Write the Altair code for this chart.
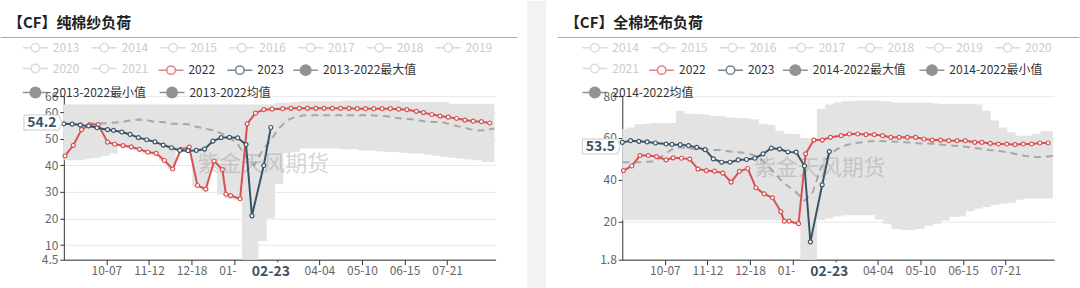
import altair as alt
import pandas as pd
from datetime import date

# ---------------- data ----------------
SEASON_START = date(2023, 9, 1)   # season axis: 09-01 .. 08-31 (366 day categories)

DATES_2022 = ["09-02", "09-09", "09-16", "09-23", "09-30", "10-08", "10-14", "10-21", "10-28",
              "11-04", "11-11", "11-18", "11-25", "12-02", "12-09", "12-16", "12-23", "12-30",
              "01-06", "01-13", "01-16", "01-20", "01-28", "02-03", "02-10", "02-17", "02-24",
              "03-04", "03-11", "03-18", "03-25", "04-01", "04-08", "04-15", "04-22", "04-29",
              "05-06", "05-13", "05-20", "05-27", "06-03", "06-10", "06-17", "06-25", "07-01",
              "07-08", "07-15", "07-22", "07-29", "08-05", "08-12", "08-19", "08-26"]
DATES_2023 = ["09-01", "09-08", "09-15", "09-22", "09-29", "10-08", "10-13", "10-20", "10-27",
              "11-03", "11-10", "11-17", "11-24", "12-01", "12-08", "12-15", "12-22", "12-29",
              "01-05", "01-12", "01-19", "01-26", "02-02", "02-07", "02-17", "02-23"]
BAND_DAYS = list(range(0, 365, 7))
X_TICKS = ["10-07", "11-12", "12-18", "01-23", "02-28", "04-04", "05-10", "06-15", "07-21"]

# 纯棉纱负荷
YARN_2022 = [43.5, 47.5, 53.4, 55.3, 55.3, 48.7, 47.9, 47.4, 46.9, 46.0, 44.9, 44.5, 41.8, 38.6,
             46.0, 46.8, 32.4, 31.0, 41.6, 38.4, 29.1, 28.6, 27.4, 55.6, 59.6, 60.9, 61.1, 61.3,
             61.4, 61.4, 61.4, 61.4, 61.4, 61.4, 61.4, 61.4, 61.3, 61.3, 61.3, 61.3, 61.3, 61.1,
             60.9, 60.3, 59.8, 59.1, 58.5, 58.1, 57.6, 57.0, 56.6, 56.4, 55.9]
YARN_2023 = [55.6, 55.5, 55.1, 54.8, 54.1, 53.4, 53.1, 52.5, 51.6, 50.4, 49.6, 48.8, 47.6, 46.6,
             45.6, 45.5, 45.6, 46.1, 49.1, 50.4, 50.5, 50.3, 47.8, 21.0, 39.9, 54.2]
YARN_MAX = [62.9] * 26 + [63.5, 63.5, 63.8, 64.1, 64.1, 64.1, 64.1, 64.1,
            64.4, 64.4, 64.4, 64.4, 64.4, 64.4, 64.4,
            63.8, 63.8, 63.8, 63.8, 63.8, 63.8, 63.1, 63.1, 63.1, 63.1, 63.1, 63.1]
YARN_MIN = [41.9, 41.9, 41.9, 42.5, 42.8, 43.5, 44.4, 47.0, 46.5, 45.5,
            44.5, 44.0, 41.5, 38.5, 45.5, 45.8, 32.0, 30.5, 40.0, 29.0,
            27.5, 27.0, 4.5, 4.5, 11.5, 20.0, 33.0, 44.5, 45.0, 46.3,
            46.3, 46.3, 46.3, 46.3, 46.0, 46.0, 45.6, 45.6, 45.3, 45.0,
            45.0, 44.7, 44.4, 44.4, 44.0, 43.6, 43.1, 42.8, 42.5, 42.2,
            41.9, 41.2, 41.2]
YARN_MEAN = [55.5, 55.5, 55.6, 55.6, 55.6, 55.8, 56.0, 56.3, 56.8, 57.2,
             57.0, 56.3, 56.3, 55.6, 55.6, 55.4, 54.5, 53.8, 53.2, 52.0,
             50.5, 48.0, 43.0, 40.0, 45.6, 49.5, 54.0, 57.0, 58.2, 58.8,
             58.8, 58.8, 58.8, 58.8, 58.8, 58.8, 58.8, 58.8, 58.6, 58.4,
             57.9, 57.5, 57.3, 56.8, 56.3, 56.3, 56.0, 55.0, 54.4, 53.6,
             53.1, 53.2, 53.8]

# 全棉坯布负荷
CLOTH_2022 = [44.4, 46.6, 51.6, 51.6, 51.1, 49.5, 50.5, 50.3, 49.9, 45.1, 44.4, 44.1, 43.2, 38.9,
              44.0, 45.4, 36.2, 33.3, 31.4, 24.8, 20.2, 20.2, 19.0, 52.4, 59.0, 59.0, 60.3, 61.1,
              61.9, 61.9, 61.6, 61.6, 61.1, 60.3, 60.3, 60.3, 60.3, 59.5, 59.0, 59.0, 58.7, 58.7,
              58.7, 57.9, 57.9, 57.4, 57.1, 57.1, 56.8, 57.1, 57.1, 57.6, 57.6]
CLOTH_2023 = [57.9, 58.7, 58.4, 58.1, 57.6, 57.1, 56.9, 56.8, 56.3, 55.5, 54.4, 50.0, 48.4, 48.4,
              49.5, 49.7, 50.3, 52.4, 55.1, 54.7, 53.3, 53.2, 46.6, 10.3, 37.6, 53.5]
CLOTH_MAX = [64.3, 65.0, 66.6, 66.8, 67.1, 67.1, 67.1, 73.0, 71.6, 71.4,
             71.2, 70.6, 70.4, 69.8, 69.6, 69.4, 69.0, 66.8, 66.2, 63.5,
             62.0, 61.9, 60.0, 59.5, 74.0, 76.0, 77.0, 77.5, 77.8, 77.8,
             77.8, 77.8, 77.5, 77.0, 77.0, 77.0, 77.0, 77.0, 76.5, 76.2,
             76.2, 76.2, 76.2, 76.0, 73.0, 68.3, 65.0, 62.7, 61.1, 61.1,
             62.0, 63.3, 63.3]
CLOTH_MIN = [20.6] * 20 + [20.0, 18.8, 1.8, 1.8, 20.6, 21.5, 22.5, 23.0, 23.0, 23.0,
                           23.0, 21.0, 19.0, 16.5, 16.0, 16.0, 16.5, 18.0, 19.0, 20.5,
                           22.2, 22.5, 25.0, 26.2, 27.0, 28.0, 28.6, 29.0, 30.5, 31.0,
                           31.0, 31.0, 31.0]
CLOTH_MEAN = [48.4, 48.4, 48.4, 48.6, 48.8, 52.0, 54.5, 55.5, 55.0, 54.6,
              54.4, 54.3, 54.2, 53.5, 53.2, 52.8, 51.6, 49.0, 45.0, 40.5,
              37.0, 34.0, 30.0, 34.0, 46.0, 52.0, 54.8, 56.5, 57.5, 58.0,
              58.4, 58.5, 58.4, 58.2, 58.0, 57.8, 57.4, 57.3, 57.0, 56.6,
              56.3, 56.0, 55.5, 55.0, 54.4, 53.9, 53.5, 52.8, 51.8, 51.3,
              50.9, 50.9, 51.5]

# ---------------- style ----------------
FONT = "Noto Sans CJK SC"
RED = "#d65252"
DARK = "#3b5366"
GREY_ICON = "#666666"
BAND = "#e3e3e3"
MEAN = "#a8a8a8"
GAP = "#f2f2f2"
PW, PH = 433, 164
TOP, BOTTOM = -95.7, 288 - 95.7

HOLLOW = "M-1,0L-0.34,0M0.34,0L1,0M0.34,0A0.34,0.34,0,1,1,-0.34,0A0.34,0.34,0,1,1,0.34,0Z"
FILLED = "M-1,0L-0.42,0M0.42,0L1,0M0.42,0A0.42,0.42,0,1,1,-0.42,0A0.42,0.42,0,1,1,0.42,0Z"
YBOX = "M-1,-0.4L0.84,-0.4L1,0L0.84,0.4L-1,0.4Z"
XBOX = "M-1,-0.3L1,-0.3L1,0.3L-1,0.3Z"


def day_index(mmdd):
    m, d = map(int, mmdd.split("-"))
    y = 2023 if m >= 9 else 2024
    return (date(y, m, d) - SEASON_START).days


def legend_layer(labels, channel, field, rng, mark_kw, leg_kw):
    base = dict(orient="none", direction="horizontal", title=None, padding=0,
                labelFont=FONT, labelFontSize=12, symbolSize=625, symbolStrokeWidth=1.5,
                labelOffset=4, columnPadding=9, rowPadding=-4.5, labelLimit=0)
    base.update(leg_kw)
    scale = alt.Scale(domain=labels, range=rng)
    cls = {"shape": alt.Shape, "color": alt.Color, "fill": alt.Fill, "stroke": alt.Stroke}[channel]
    enc = {channel: cls(f"{field}:N", scale=scale, legend=alt.Legend(**base))}
    return (alt.Chart(pd.DataFrame({field: labels}))
            .mark_point(**mark_kw).encode(**enc).transform_filter("false"))


def make_panel(cfg):
    xs = alt.Scale(domain=[0, 365], nice=False, zero=False)
    ys = alt.Scale(domain=cfg["ydomain"], nice=False, zero=False)
    tick_days = [day_index(t) for t in X_TICKS]
    xaxis = alt.Axis(values=tick_days,
                     labelExpr="timeFormat(datetime(2023, 8, 1 + datum.value), '%m-%d')",
                     domainColor="#333", tickColor="#333", tickSize=5, labelColor="#666",
                     labelFont=FONT, labelFontSize=12, labelPadding=1, grid=False,
                     labelOverlap=False, labelFlush=False, title=None)
    yaxis = alt.Axis(values=cfg["yticks"], labelExpr="datum.value + ''", domainColor="#333",
                     tickColor="#333", tickSize=4, labelColor="#666", labelFont=FONT,
                     labelFontSize=12, labelPadding=2, gridColor="#e8e8e8", labelOverlap=False,
                     labelFlush=False, title=None)

    def X(f):
        return alt.X(f"{f}:Q", scale=xs, axis=xaxis, title=None)

    def Y(f):
        return alt.Y(f"{f}:Q", scale=ys, axis=yaxis, title=None)

    one = pd.DataFrame({"a": [0]})
    band_df = pd.DataFrame({"day": BAND_DAYS, "hi": cfg["max"], "lo": cfg["min"], "mean": cfg["mean"]})
    red_df = pd.DataFrame({"day": [day_index(d) for d in DATES_2022], "v": cfg["s22"]})
    dark_df = pd.DataFrame({"day": [day_index(d) for d in DATES_2023], "v": cfg["s23"]})
    last = pd.DataFrame({"day": [day_index(DATES_2023[-1])], "v": [cfg["s23"][-1]],
                         "vlab": [f"{cfg['s23'][-1]:.1f}"], "dlab": [DATES_2023[-1]]})

    # decoration: grey page gap (left panel) / invisible edge keeping the same vertical extent
    edge = alt.Chart(one).mark_rect(color=cfg["edge_color"]).encode(
        x=alt.value(cfg["edge"][0]), x2=alt.value(cfg["edge"][1]),
        y=alt.value(TOP), y2=alt.value(BOTTOM))
    underline = alt.Chart(one).mark_rule(color="#aaaaaa", strokeWidth=1).encode(
        x=alt.value(cfg["uline"][0]), x2=alt.value(cfg["uline"][1]), y=alt.value(-58.8))
    title = alt.Chart(one).mark_text(align="left", baseline="middle", font=FONT, fontSize=15,
                                     fontWeight="bold", color="#222").encode(
        x=alt.value(cfg["title_x"]), y=alt.value(-73.5), text=alt.value(cfg["title"]))

    band = alt.Chart(band_df).mark_area(interpolate="step", color=BAND).encode(
        x=X("day"), y=Y("hi"), y2="lo:Q")
    mean = alt.Chart(band_df).mark_line(color=MEAN, strokeWidth=2, strokeDash=[7, 5]).encode(
        x=X("day"), y=Y("mean"))
    wm = alt.Chart(one).mark_text(font=FONT, fontSize=22, color="#999999", opacity=0.4).encode(
        x=alt.value(cfg["wm"][0]), y=alt.value(cfg["wm"][1]), text=alt.value("紫金天风期货"))
    red_line = alt.Chart(red_df).mark_line(color=RED, strokeWidth=2).encode(x=X("day"), y=Y("v"))
    red_pts = alt.Chart(red_df).mark_point(filled=True, fill="white", stroke=RED, strokeWidth=1.2,
                                           size=16, opacity=1).encode(x=X("day"), y=Y("v"))
    dark_line = alt.Chart(dark_df).mark_line(color=DARK, strokeWidth=2).encode(x=X("day"), y=Y("v"))
    dark_pts = alt.Chart(dark_df).mark_point(filled=True, fill="white", stroke=DARK, strokeWidth=1.2,
                                             size=16, opacity=1).encode(x=X("day"), y=Y("v"))

    ybox = alt.Chart(last).mark_point(shape=YBOX, size=1444, filled=True, fill="white",
                                      stroke="#cccccc", strokeWidth=1, opacity=1, yOffset=-5).encode(
        x=alt.value(-21), y=Y("v"))
    ytxt = alt.Chart(last).mark_text(font=FONT, fontSize=14, fontWeight="bold", color=DARK,
                                     dy=-5).encode(x=alt.value(-22), y=Y("v"), text="vlab:N")
    xbox = alt.Chart(last).mark_point(shape=XBOX, size=4356, filled=True, fill="white",
                                      strokeWidth=0, opacity=1, xOffset=-1).encode(
        x=X("day"), y=alt.value(176.5))
    xtxt = alt.Chart(last).mark_text(font=FONT, fontSize=14, fontWeight="bold", color=DARK).encode(
        x=X("day"), y=alt.value(176.5), text="dlab:N")

    lg = cfg["legends"]
    leg_a = legend_layer(cfg["inactive"], "shape", "ina", [HOLLOW] * len(cfg["inactive"]),
                         dict(filled=False, color="#cccccc", shape=HOLLOW),
                         dict(legendX=lg["a"][0], legendY=lg["a"][1], columns=7,
                              symbolStrokeColor="#cccccc", symbolFillColor="white",
                              labelColor="#cccccc", symbolType=HOLLOW))
    leg_b = legend_layer(["2022", "2023"], "color", "act", [RED, DARK],
                         dict(filled=False, shape=HOLLOW),
                         dict(legendX=lg["b"][0], legendY=lg["b"][1], columns=2,
                              symbolFillColor="white", labelColor="#333", symbolType=HOLLOW))
    leg_c = legend_layer(cfg["c_labels"], "fill", "cc", [GREY_ICON] * len(cfg["c_labels"]),
                         dict(filled=True, color=GREY_ICON, shape=FILLED),
                         dict(legendX=lg["c"][0], legendY=lg["c"][1], columns=2, columnPadding=10,
                              symbolStrokeColor=GREY_ICON, labelColor="#333", symbolType=FILLED))
    leg_d = legend_layer(cfg["d_labels"], "stroke", "dd", [GREY_ICON] * len(cfg["d_labels"]),
                         dict(filled=True, color=GREY_ICON, shape=FILLED),
                         dict(legendX=lg["d"][0], legendY=lg["d"][1], columns=2, columnPadding=10,
                              symbolFillColor=GREY_ICON, labelColor="#333", symbolType=FILLED))

    return alt.layer(edge, underline, title, band, mean, wm, red_line, red_pts, dark_line, dark_pts,
                     ybox, ytxt, xbox, xtxt, leg_a, leg_b, leg_c, leg_d).properties(
        width=PW, height=PH).resolve_scale(shape="independent", color="independent",
                                           fill="independent", stroke="independent")


ROW1, ROW2, ROW3 = -62.2, -39.7, -17.2   # legend row tops relative to plot top

LEFT = dict(title="【CF】纯棉纱负荷", s22=YARN_2022, s23=YARN_2023, max=YARN_MAX, min=YARN_MIN,
            mean=YARN_MEAN, ydomain=[4.5, 66], yticks=[4.5, 10, 20, 30, 40, 50, 60, 66],
            inactive=[str(y) for y in range(2013, 2022)],
            c_labels=["2013-2022最大值"], d_labels=["2013-2022最小值", "2013-2022均值"],
            edge=(464.7, 483.7), edge_color=GAP, uline=(-63.3, 454.7), title_x=-56, wm=(200, 68),
            legends=dict(a=(-42, ROW1), b=(94, ROW2), c=(229, ROW2), d=(-42, ROW3)))
RIGHT = dict(title="【CF】全棉坯布负荷", s22=CLOTH_2022, s23=CLOTH_2023, max=CLOTH_MAX, min=CLOTH_MIN,
             mean=CLOTH_MEAN, ydomain=[1.8, 80], yticks=[1.8, 20, 40, 60, 80],
             inactive=[str(y) for y in range(2014, 2022)],
             c_labels=["2014-2022最大值", "2014-2022最小值"], d_labels=["2014-2022均值"],
             edge=(458.3, 458.3), edge_color="white", uline=(-64.7, 458.3), title_x=-57.5,
             wm=(198, 72),
             legends=dict(a=(-41, ROW1), b=(26, ROW2), c=(160, ROW2), d=(-41, ROW3)))

chart = alt.hconcat(make_panel(LEFT), make_panel(RIGHT), spacing=10).resolve_scale(
    x="independent", y="independent", shape="independent", color="independent",
    fill="independent", stroke="independent").resolve_legend(
    shape="independent", color="independent", fill="independent", stroke="independent"
).properties(padding=0, background="white").configure_view(stroke=None)

chart.save("out.html", embed_options={"renderer": "svg", "actions": False})
